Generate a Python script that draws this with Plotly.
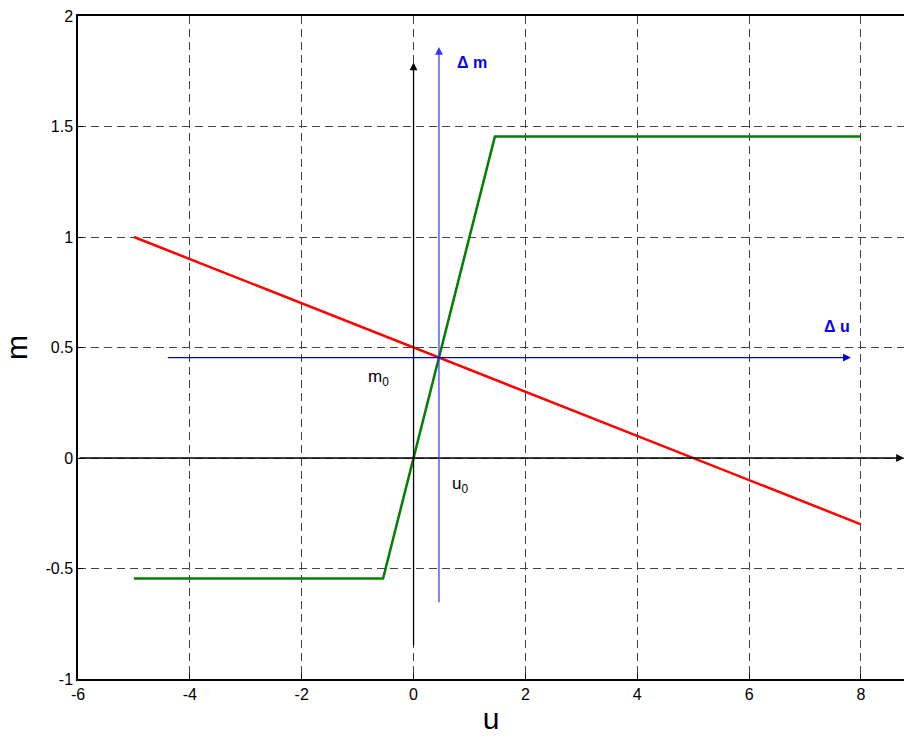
import plotly.graph_objects as go

# Data
red_u = [-5, 8]
red_m = [1.0, -0.3]
green_u = [-5, -0.545, 1.455, 8]
green_m = [-0.545, -0.545, 1.455, 1.455]
u0 = 0.4545
m0 = 0.4545
x_ticks = [-6, -4, -2, 0, 2, 4, 6, 8]
x_tick_text = ["-6", "-4", "-2", "0", "2", "4", "6", "8"]
y_ticks = [-1, -0.5, 0, 0.5, 1, 1.5, 2]
y_tick_text = ["-1", "-0.5", "0", "0.5", "1", "1.5", "2"]

fig = go.Figure()
fig.add_trace(go.Scatter(x=red_u, y=red_m, mode="lines",
                         line=dict(color="#ff0000", width=2.5), showlegend=False))
fig.add_trace(go.Scatter(x=green_u, y=green_m, mode="lines",
                         line=dict(color="#007f00", width=2.5), showlegend=False))

XR = [-6, 8.77]

def arrow(x0, y0, x1, y1, color, width):
    fig.add_annotation(x=x1, y=y1, ax=x0, ay=y0, xref="x", yref="y",
                       axref="x", ayref="y", showarrow=True, text="",
                       arrowhead=2, arrowsize=1.3 / width * 1.2, arrowwidth=width,
                       arrowcolor=color)

# black axes arrows
arrow(0, -0.855, 0, 1.79, "#000000", 1.3)
arrow(-6, 0, 8.77, 0, "#000000", 1.3)
# blue delta arrows
arrow(u0, -0.66, u0, 1.86, "#3333ff", 1.2)
arrow(-4.42, m0, 7.82, m0, "#0000cc", 1.2)

FF = "Liberation Sans, Arial"
fig.add_annotation(x=0.75, y=1.79, text="<b>Δ m</b>", showarrow=False,
                   xanchor="left", font=dict(color="#0000ff", size=16, family=FF))
fig.add_annotation(x=7.3, y=0.595, text="<b>Δ u</b>", showarrow=False,
                   xanchor="left", font=dict(color="#0000ff", size=16, family=FF))
fig.add_annotation(x=-0.85, y=0.36, text="m<sub>0</sub>", showarrow=False,
                   xanchor="left", font=dict(color="#000000", size=17, family=FF))
fig.add_annotation(x=0.65, y=-0.12, text="u<sub>0</sub>", showarrow=False,
                   xanchor="left", font=dict(color="#000000", size=17, family=FF))

fig.update_layout(
    width=904, height=739,
    margin=dict(l=78, r=0, t=16, b=60),
    plot_bgcolor="white", paper_bgcolor="white",
    font=dict(family=FF, size=16, color="#000000"),
    xaxis=dict(range=XR, tickvals=x_ticks, ticktext=x_tick_text,
               showgrid=True, gridcolor="#444444",
               griddash="8px,5px", gridwidth=1, zeroline=False, showline=True,
               linecolor="#000000", linewidth=1.5, mirror=True,
               ticks="inside", ticklen=5, tickcolor="#000000",
               tickfont=dict(size=16),
               title=dict(text="u", font=dict(size=30), standoff=6)),
    yaxis=dict(range=[-1, 2], tickvals=y_ticks, ticktext=y_tick_text,
               showgrid=True, gridcolor="#444444", griddash="8px,5px", gridwidth=1,
               zeroline=False, showline=True, linecolor="#000000", linewidth=1.5,
               ticks="inside", ticklen=5, tickcolor="#000000",
               tickfont=dict(size=16),
               title=dict(text="m", font=dict(size=30), standoff=16)),
)

fig.write_html("out.html")
